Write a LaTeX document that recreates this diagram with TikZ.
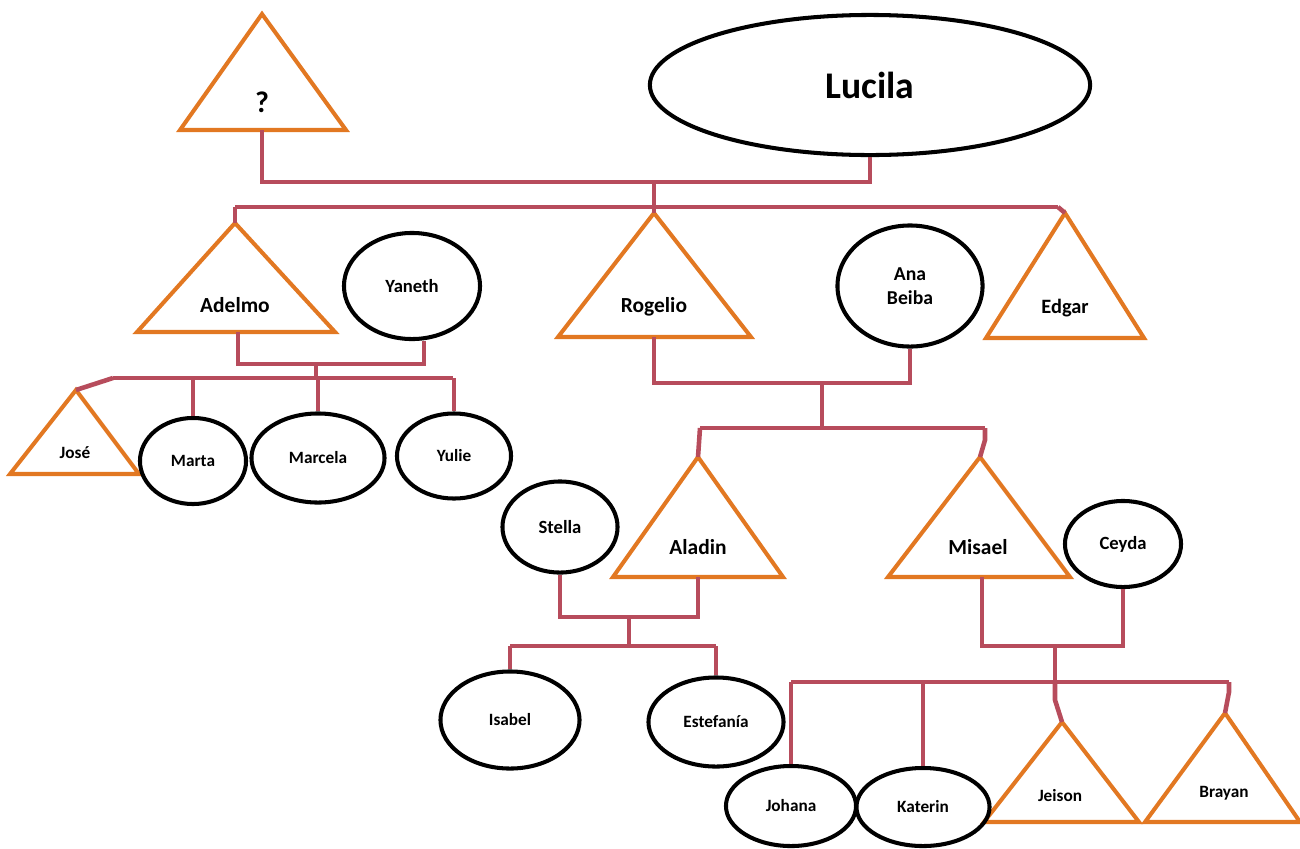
\documentclass[tikz,border=0pt]{standalone}
\usepackage{fontspec}
\setmainfont{Carlito}
\usetikzlibrary{shapes.geometric}
\definecolor{tricol}{RGB}{226,120,34}
\definecolor{concol}{RGB}{183,76,92}
\begin{document}
\begin{tikzpicture}[x=0.01cm,y=-0.01cm,
  tri/.style={draw=tricol,line width=1.15pt,line join=miter},
  con/.style={draw=concol,line width=1.3pt},
  ell/.style={draw=black,line width=1.15pt,ellipse,inner sep=0pt,font=\bfseries\fontsize{4.9pt}{6pt}\selectfont},
  lab/.style={inner sep=0pt,font=\bfseries\fontsize{4.9pt}{6pt}\selectfont},
  mid/.style={inner sep=0pt,font=\bfseries\fontsize{6.1pt}{7pt}\selectfont}]
\useasboundingbox (0,0) rectangle (1300,848);
% ---------- triangles (men) ----------
\coordinate (q-top) at (262,14); \coordinate (q-bl) at (180,130); \coordinate (q-br) at (346,130); \coordinate (q-b) at (262,130);
\draw[tri] (q-top) -- (q-bl) -- (q-br) -- cycle;
\node[inner sep=0pt,font=\bfseries\fontsize{8.5pt}{9pt}\selectfont] (q) at (262,102) {?};
\coordinate (adelmo-top) at (235,223); \coordinate (adelmo-bl) at (137,332); \coordinate (adelmo-br) at (335,332); \coordinate (adelmo-b) at (238,332);
\draw[tri] (adelmo-top) -- (adelmo-bl) -- (adelmo-br) -- cycle;
\node[mid] (adelmo) at (235,305) {Adelmo};
\coordinate (rogelio-top) at (654,213); \coordinate (rogelio-bl) at (558,337); \coordinate (rogelio-br) at (751,337); \coordinate (rogelio-b) at (654,337);
\draw[tri] (rogelio-top) -- (rogelio-bl) -- (rogelio-br) -- cycle;
\node[mid] (rogelio) at (654,307) {Rogelio};
\coordinate (edgar-top) at (1065,213); \coordinate (edgar-bl) at (986,338); \coordinate (edgar-br) at (1144,338);
\draw[tri] (edgar-top) -- (edgar-bl) -- (edgar-br) -- cycle;
\node[mid,font=\bfseries\fontsize{5.8pt}{7pt}\selectfont] (edgar) at (1065,308) {Edgar};
\coordinate (jose-top) at (76,390); \coordinate (jose-bl) at (10,474); \coordinate (jose-br) at (139,474);
\draw[tri] (jose-top) -- (jose-bl) -- (jose-br) -- cycle;
\node[lab] (jose) at (75,453) {José};
\coordinate (aladin-top) at (698,457); \coordinate (aladin-bl) at (613,577); \coordinate (aladin-br) at (783,577); \coordinate (aladin-b) at (698,577);
\draw[tri] (aladin-top) -- (aladin-bl) -- (aladin-br) -- cycle;
\node[mid] (aladin) at (698,547) {Aladin};
\coordinate (misael-top) at (980,457); \coordinate (misael-bl) at (888,577); \coordinate (misael-br) at (1070,577); \coordinate (misael-b) at (982,577);
\draw[tri] (misael-top) -- (misael-bl) -- (misael-br) -- cycle;
\node[mid] (misael) at (978,547) {Misael};
\coordinate (jeison-top) at (1062,722); \coordinate (jeison-bl) at (984,822); \coordinate (jeison-br) at (1139,822);
\draw[tri] (jeison-top) -- (jeison-bl) -- (jeison-br) -- cycle;
\node[lab] (jeison) at (1060,796) {Jeison};
\coordinate (brayan-top) at (1225,713); \coordinate (brayan-bl) at (1145,822); \coordinate (brayan-br) at (1300,822);
\draw[tri] (brayan-top) -- (brayan-bl) -- (brayan-br) -- cycle;
\node[lab] (brayan) at (1224,793) {Brayan};
% ---------- ellipses (women) ----------
\node[ell,minimum width=4.4cm,minimum height=1.4cm,font=\bfseries\fontsize{10.7pt}{12pt}\selectfont] (lucila) at (870,85) {Lucila};
\node[ell,minimum width=1.36cm,minimum height=1.06cm,font=\bfseries\fontsize{5.3pt}{6pt}\selectfont] (yaneth) at (412,286) {Yaneth};
\node[ell,minimum width=1.45cm,minimum height=1.21cm,align=center,font=\bfseries\fontsize{5.6pt}{6.8pt}\selectfont] (anabeiba) at (910,286) {Ana\\Beiba};
\node[ell,minimum width=1.06cm,minimum height=0.86cm] (marta) at (193,461) {Marta};
\node[ell,minimum width=1.33cm,minimum height=0.89cm] (marcela) at (318,458) {Marcela};
\node[ell,minimum width=1.14cm,minimum height=0.85cm] (yulie) at (454,456) {Yulie};
\node[ell,minimum width=1.15cm,minimum height=0.91cm,font=\bfseries\fontsize{5.3pt}{6pt}\selectfont] (stella) at (560,527) {Stella};
\node[ell,minimum width=1.39cm,minimum height=0.97cm] (isabel) at (510,720) {Isabel};
\node[ell,minimum width=1.35cm,minimum height=0.89cm] (estefania) at (716,722) {Estefanía};
\node[ell,minimum width=1.16cm,minimum height=0.86cm,font=\bfseries\fontsize{5.3pt}{6pt}\selectfont] (ceyda) at (1123,544) {Ceyda};
\node[ell,minimum width=1.30cm,minimum height=0.80cm] (johana) at (791,806) {Johana};
\node[ell,minimum width=1.33cm,minimum height=0.78cm] (katerin) at (923,807) {Katerin};
% ---------- connectors ----------
\coordinate (m1) at (654,182);
\draw[con] (q-b) |- (m1) -| (lucila.south);
\draw[con] (m1) -- (rogelio-top);
\coordinate (b1l) at (235,207); \coordinate (b1r) at (1058,207);
\draw[con] (b1l) -- (b1r);
\draw[con] (b1l) -- (adelmo-top);
\draw[con] (b1r) -- (edgar-top);
% Adelmo + Yaneth
\coordinate (m2) at (316,364); \coordinate (m2b) at (316,378);
\draw[con] (adelmo-b) |- (m2) -| ([xshift=0.12cm]yaneth.south);
\draw[con] (m2) -- (m2b);
\coordinate (b2l) at (113,378); \coordinate (b2r) at (453,378);
\draw[con] (b2l) -- (b2r);
\draw[con] (b2l) -- (jose-top);
\draw[con] (marta.north |- b2l) -- (marta.north);
\draw[con] (marcela.north |- b2l) -- (marcela.north);
\draw[con] (yulie.north |- b2l) -- (yulie.north);
% Rogelio + Ana Beiba
\coordinate (m3) at (822,383); \coordinate (m3b) at (822,428);
\draw[con] (rogelio-b) |- (m3) -| (anabeiba.south);
\draw[con] (m3) -- (m3b);
\coordinate (b3l) at (700,428); \coordinate (b3r) at (985,428); \coordinate (b3r2) at (985,440);
\draw[con] (b3l) -- (b3r);
\draw[con] (b3l) -- (aladin-top);
\draw[con] (b3r) -- (b3r2) -- (misael-top);
% Stella + Aladin
\coordinate (m4) at (629,617); \coordinate (m4b) at (629,646);
\draw[con] (stella.south) |- (m4) -| (aladin-b);
\draw[con] (m4) -- (m4b);
\coordinate (b4l) at (510,646); \coordinate (b4r) at (716,646);
\draw[con] (isabel.north |- b4l) -- (estefania.north |- b4r);
\draw[con] (isabel.north |- b4l) -- (isabel.north);
\draw[con] (estefania.north |- b4r) -- (estefania.north);
% Misael + Ceyda
\coordinate (m5) at (1055,646); \coordinate (m5b) at (1055,682);
\draw[con] (misael-b) |- (m5) -| (ceyda.south);
\draw[con] (m5) -- (m5b);
\coordinate (b5r) at (1229,682); \coordinate (b5r2) at (1229,692); \coordinate (m5c) at (1055,700);
\draw[con] (johana.north |- b5r) -- (b5r);
\draw[con] (johana.north |- b5r) -- (johana.north);
\draw[con] (katerin.north |- b5r) -- (katerin.north);
\draw[con] (m5b) -- (m5c) -- (jeison-top);
\draw[con] (b5r) -- (b5r2) -- (brayan-top);
\end{tikzpicture}
\end{document}
